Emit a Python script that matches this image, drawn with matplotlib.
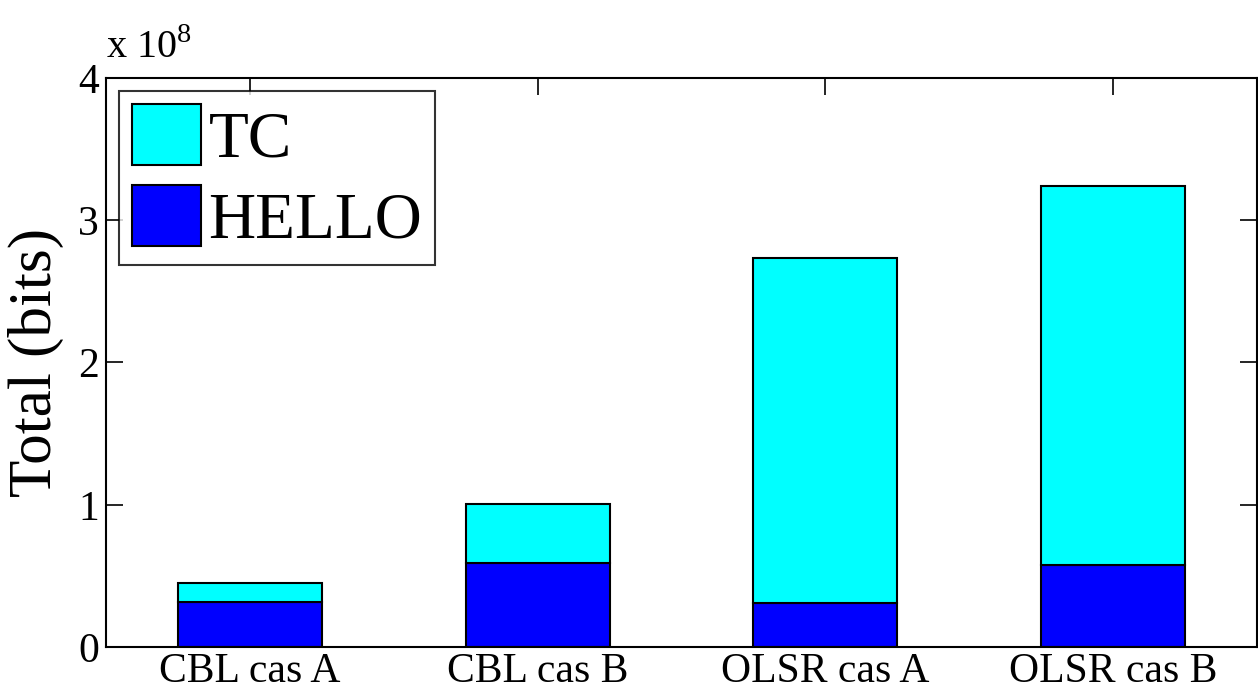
import numpy as np
import matplotlib
matplotlib.use("Agg")
import matplotlib.pyplot as plt

# values in units of 1e8 bits
categories = ["CBL cas A", "CBL cas B", "OLSR cas A", "OLSR cas B"]
hello = [0.316, 0.59, 0.309, 0.576]
total = [0.45, 1.005, 2.735, 3.24]
tc = [t - h for t, h in zip(total, hello)]
yticks = [0, 1, 2, 3, 4]

plt.rcParams['font.family'] = ['Liberation Serif', 'DejaVu Serif']
plt.rcParams['mathtext.fontset'] = 'custom'
plt.rcParams['mathtext.rm'] = 'Liberation Serif'

fig = plt.figure(figsize=(12.58, 6.90), dpi=100)
ax = fig.add_axes([0.0843, 0.0623, 0.9149, 0.8247])
ax.set_axisbelow(True)

x = np.arange(1, len(categories) + 1)
b1 = ax.bar(x, hello, width=0.5, color='#0000ff', edgecolor='black', linewidth=1.5, label='HELLO')
b2 = ax.bar(x, tc, width=0.5, bottom=hello, color='#00ffff', edgecolor='black', linewidth=1.5, label='TC')

ax.set_xlim(0.5, 4.5)
ax.set_ylim(0, 4)
ax.set_xticks(x)
ax.set_xticklabels(categories)
ax.set_yticks(yticks)
ax.tick_params(direction='in', length=12, width=1.2, top=True, right=True,
               labelsize=30)
ax.tick_params(axis='x', pad=4)
ax.tick_params(axis='y', pad=5)
for s in ax.spines.values():
    s.set_linewidth(1.5)
ax.set_ylabel("Total (bits)", fontsize=44, labelpad=10)

ax.text(0.0, 1.02, r"x 10$^{8}$", transform=ax.transAxes, fontsize=29,
        ha='left', va='bottom')

leg = ax.legend([b2, b1], ['TC', 'HELLO'], loc='upper left', fontsize=47,
                frameon=True, fancybox=False, edgecolor='black',
                handlelength=1.05, handleheight=1.05, handletextpad=0.12,
                borderpad=0.2, labelspacing=0.22, borderaxespad=0.2)
leg.get_frame().set_linewidth(1.5)

fig.savefig("out.png", dpi=100)
